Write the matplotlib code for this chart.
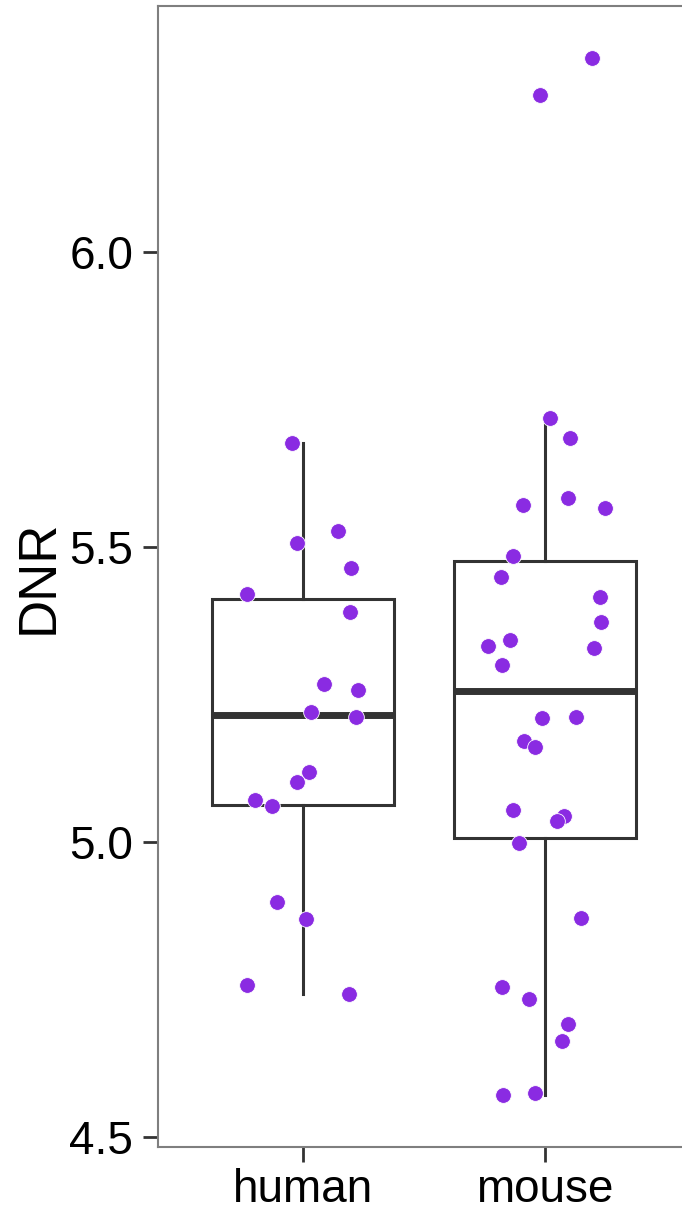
import matplotlib
matplotlib.use("Agg")
import matplotlib.pyplot as plt
import numpy as np

categories = ["human", "mouse"]

human_values = [5.676, 5.527, 5.507, 5.464, 5.420, 5.390, 5.268, 5.258, 5.220,
                5.212, 5.119, 5.102, 5.071, 5.061, 4.898, 4.869, 4.758, 4.742]
human_jitter = [-0.045, 0.145, -0.025, 0.198, -0.231, 0.194, 0.087, 0.227, 0.033,
                0.219, 0.025, -0.025, -0.198, -0.128, -0.107, 0.012, -0.231, 0.190]

mouse_values = [6.329, 6.266, 5.719, 5.685, 5.571, 5.583, 5.566, 5.485, 5.449, 5.415,
                5.332, 5.342, 5.373, 5.329, 5.300, 5.210, 5.212, 5.171, 5.161, 5.054,
                5.044, 5.036, 4.998, 4.871, 4.754, 4.734, 4.692, 4.663, 4.571, 4.575]
mouse_jitter = [0.194, -0.021, 0.021, 0.103, -0.091, 0.095, 0.248, -0.132, -0.182, 0.227,
                -0.236, -0.145, 0.231, 0.202, -0.178, -0.012, 0.128, -0.087, -0.041, -0.132,
                0.079, 0.050, -0.107, 0.149, -0.178, -0.066, 0.095, 0.070, -0.174, -0.041]

y_ticks = [4.5, 5.0, 5.5, 6.0]
y_label = "DNR"

plt.rcParams['font.family'] = ['Liberation Sans', 'DejaVu Sans']

W, H = 682, 1213
fig = plt.figure(figsize=(W / 100, H / 100), dpi=100)
left, right, top, bottom = 158, 690, 6, 1147
ax = fig.add_axes([left / W, (H - bottom) / H, (right - left) / W, (bottom - top) / H])

box_col = "#333333"
lw = 2.2
ax.boxplot([human_values, mouse_values], positions=[1, 2], widths=0.75,
           showfliers=False, patch_artist=True,
           boxprops=dict(facecolor="white", edgecolor=box_col, linewidth=lw),
           whiskerprops=dict(color=box_col, linewidth=lw),
           capprops=dict(linewidth=0),
           medianprops=dict(color=box_col, linewidth=5.0, solid_capstyle="butt"),
           zorder=2)

for i, (vals, jit) in enumerate([(human_values, human_jitter), (mouse_values, mouse_jitter)]):
    xs = np.array(jit) + (i + 1)
    ax.scatter(xs, vals, s=128, color="#8A2BE2", edgecolors="white", linewidths=0.6, zorder=3)

ax.set_xlim(0.4, 2.6)
ax.set_ylim(4.483, 6.417)
ax.set_xticks([1, 2])
ax.set_xticklabels(categories)
ax.set_yticks(y_ticks)
ax.set_yticklabels([f"{t:.1f}" for t in y_ticks])
ax.tick_params(axis="both", labelsize=33, length=11, width=2.0, color="#333333",
               labelcolor="black")
ax.tick_params(axis="y", pad=7)
ax.tick_params(axis="x", pad=4)
ax.set_ylabel(y_label, fontsize=38, labelpad=4)

for side in ["left", "top", "bottom", "right"]:
    ax.spines[side].set_color("#7F7F7F")
    ax.spines[side].set_linewidth(1.5)

fig.savefig("out.png", dpi=100)
